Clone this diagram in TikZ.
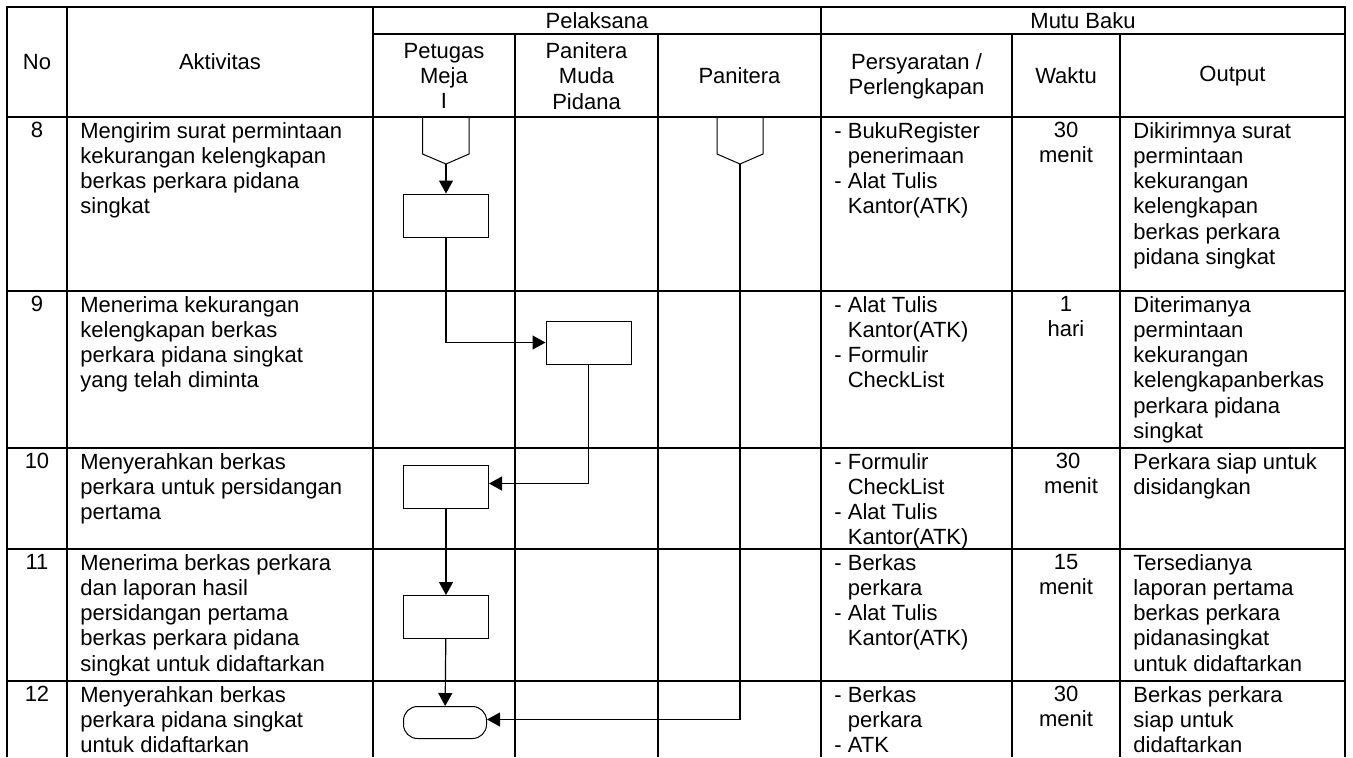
\documentclass[tikz,border=0pt]{standalone}
\usepackage{fontspec}
\setmainfont{Liberation Sans}
\usetikzlibrary{arrows.meta,positioning}
\newcommand{\dashind}{\phantom{- }}

\begin{document}
\begin{tikzpicture}[x=0.5pt,y=-0.5pt,font=\fontsize{11}{12.6}\selectfont,
  grid line/.style={line width=0.8pt},
  cell/.style={anchor=north west,inner sep=0pt,align=left},
  mid/.style={anchor=north,inner sep=0pt,align=center},
  head/.style={inner sep=0pt,align=center},
  proc/.style={draw,line width=0.5pt,minimum width=42.5pt,minimum height=21.5pt,inner sep=0pt},
  term/.style={draw,line width=0.5pt,rounded corners=7pt,minimum width=41.5pt,minimum height=16pt,inner sep=0pt},
  flow/.style={line width=0.6pt,-{Triangle[length=6.5pt,width=7pt]}}]

\useasboundingbox (0,0) rectangle (1353,757);

% table
\draw[grid line] (7,757) -- (7,7) -- (1345,7) -- (1345,757);
\draw[grid line] (373,34) -- (1345,34);
\draw[grid line] (7,117) -- (1345,117);
\draw[grid line] (7,291) -- (1345,291);
\draw[grid line] (7,448) -- (1345,448);
\draw[line width=0.55pt] (7,549) -- (1345,549);
\draw[grid line] (7,681) -- (1345,681);
\draw[grid line] (67,7) -- (67,757);
\draw[grid line] (373,7) -- (373,757);
\draw[grid line] (821,7) -- (821,757);
\draw[grid line] (515,34) -- (515,757);
\draw[grid line] (658,34) -- (658,757);
\draw[grid line] (1012,34) -- (1012,757);
\draw[grid line] (1120,34) -- (1120,757);

% header
\node[head] (hNo) at (37,62) {No};
\node[head] (hAkt) at (220,62) {Aktivitas};
\node[head] (hPel) at (597,21) {Pelaksana};
\node[head] (hMutu) at (1083,21) {Mutu Baku};
\node[head] (hPet) at (444,76) {Petugas\\Meja\\I};
\node[head] (hPmp) at (586.5,76) {Panitera\\Muda\\Pidana};
\node[head] (hPan) at (739.5,76) {Panitera};
\node[head] (hSyar) at (916.5,76) {Persyaratan /\\Perlengkapan};
\node[head] (hWkt) at (1066,76) {Waktu};
\node[head] (hOut) at (1232.5,76) {Output};

% row 8
\node[mid] (no8) at (37,122) {8};
\node[cell] (akt8) at (80,122) {Mengirim surat permintaan\\kekurangan kelengkapan\\berkas perkara pidana\\singkat};
\node[cell] (syar8) at (834,122) {- BukuRegister\\\dashind penerimaan\\- Alat Tulis\\\dashind Kantor(ATK)};
\node[mid] (wkt8) at (1066,122) {30\\menit};
\node[cell] (out8) at (1133,122) {Dikirimnya surat\\permintaan\\kekurangan\\kelengkapan\\berkas perkara\\pidana singkat};

% row 9
\node[mid] (no9) at (37,296) {9};
\node[cell] (akt9) at (80,296) {Menerima kekurangan\\kelengkapan berkas\\perkara pidana singkat\\yang telah diminta};
\node[cell] (syar9) at (834,296) {- Alat Tulis\\\dashind Kantor(ATK)\\- Formulir\\\dashind CheckList};
\node[mid] (wkt9) at (1066,296) {1\\hari};
\node[cell] (out9) at (1133,296) {Diterimanya\\permintaan\\kekurangan\\kelengkapanberkas\\perkara pidana\\singkat};

% row 10
\node[mid] (no10) at (37,453) {10};
\node[cell] (akt10) at (80,453) {Menyerahkan berkas\\perkara untuk persidangan\\pertama};
\node[cell] (syar10) at (834,453) {- Formulir\\\dashind CheckList\\- Alat Tulis\\\dashind Kantor(ATK)};
\node[mid] (wkt10) at (1068,453) {30\\\ menit};
\node[cell] (out10) at (1133,453) {Perkara siap untuk\\disidangkan};

% row 11
\node[mid] (no11) at (37,554) {11};
\node[cell] (akt11) at (80,554) {Menerima berkas perkara\\dan laporan hasil\\persidangan pertama\\berkas perkara pidana\\singkat untuk didaftarkan};
\node[cell] (syar11) at (834,554) {- Berkas\\\dashind perkara\\- Alat Tulis\\\dashind Kantor(ATK)};
\node[mid] (wkt11) at (1066,554) {15\\menit};
\node[cell] (out11) at (1133,554) {Tersedianya\\laporan pertama\\berkas perkara\\pidanasingkat\\untuk didaftarkan};

% row 12
\node[mid] (no12) at (37,686) {12};
\node[cell] (akt12) at (80,686) {Menyerahkan berkas\\perkara pidana singkat\\untuk didaftarkan};
\node[cell] (syar12) at (834,686) {- Berkas\\\dashind perkara\\- ATK};
\node[mid] (wkt12) at (1066,686) {30\\menit};
\node[cell] (out12) at (1133,686) {Berkas perkara\\siap untuk\\didaftarkan};

% flow
\draw[line width=0.5pt] (422.5,117) -- (422.5,154) -- (446,164) -- (469,154) -- (469,117);
\coordinate (offA) at (446,164);
\draw[line width=0.5pt] (717,117) -- (717,154) -- (740,164) -- (763,154) -- (763,117);
\coordinate (offB) at (740,164);

\node[proc] (r1) at (446,215.5) {};
\node[proc] (r2) at (588.5,342.5) {};
\node[proc] (r3) at (446,486.5) {};
\node[proc] (r4) at (446,617) {};
\node[term] (t5) at (445,722.5) {};

\draw[flow] (offA) -- (r1);
\draw[flow] (r1.south) |- (r2.west);
\draw[flow] (r2.south) |- ([yshift=1.5pt]r3.east);
\draw[flow] (r3) -- (r4);
\draw[flow] (r4) -- (t5);
\draw[flow] (offB) |- ([yshift=1.5pt]t5.east);

\end{tikzpicture}
\end{document}
